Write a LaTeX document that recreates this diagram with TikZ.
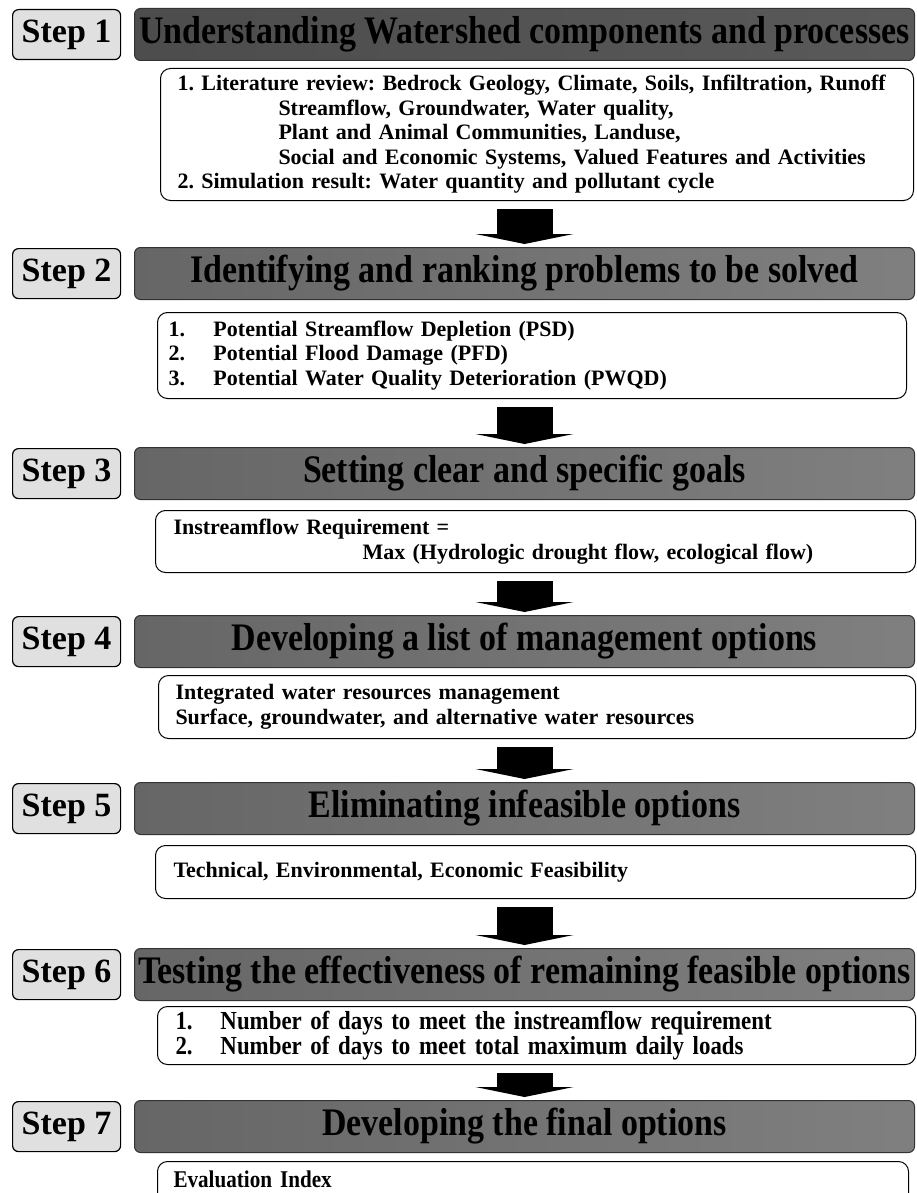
\documentclass[tikz,border=0pt]{standalone}
\usepackage{fontspec}
\setmainfont{Liberation Serif}
\newfontfamily\narrowserif{Liberation Serif}[FakeStretch=0.87]
\newfontfamily\slimserif{Liberation Serif}[FakeStretch=0.88]
\usetikzlibrary{arrows.meta,positioning}
\frenchspacing
\newcommand{\stepfont}{\fontsize{34}{36}\selectfont\bfseries}
\newcommand{\headfont}{\narrowserif\fontsize{39}{40}\selectfont\bfseries}
\newcommand{\bodyfont}{\fontsize{22}{24.5}\selectfont\bfseries}
\newcommand{\slimfont}{\slimserif\fontsize{26}{23}\selectfont\bfseries}
\newcommand{\lno}[1]{\makebox[45pt][l]{#1}}

\begin{document}
\begin{tikzpicture}[x=1pt,y=-1pt,
  stepbox/.style={draw,line width=1.2pt,rounded corners=6pt,fill=black!12,
    minimum width=108pt,minimum height=50pt,inner sep=0pt,font=\stepfont,anchor=north west},
  headbox/.style={draw=black!80,line width=1pt,rounded corners=6pt,
    left color=black!60,middle color=black!35,right color=black!50,
    minimum width=780pt,minimum height=52pt,inner sep=0pt,font=\headfont,anchor=north west},
  bodybox/.style={draw,line width=1pt,rounded corners=10pt,fill=white,
    align=left,inner ysep=0pt,font=\bodyfont,anchor=north west},
  flow/.style={line width=56pt,-{Triangle[width=98pt,length=10pt,line width=0pt]},
    shorten <=8pt,shorten >=3pt}]
  \useasboundingbox (0,0) rectangle (916,1193);

  % step 1
  \node[stepbox] (step1) at (12,9) {Step 1};
  \node[headbox,left color=black!70,middle color=black!55,right color=black!65]
    (head1) at (134,8) {Understanding Watershed components and processes};
  \node[bodybox,inner xsep=17pt,text width=719pt,minimum height=132pt] (body1) at (160,68)
    {1. Literature review: Bedrock Geology, Climate, Soils, Infiltration, Runoff\\
     \hspace*{101pt}Streamflow, Groundwater, Water quality,\\
     \hspace*{101pt}Plant and Animal Communities, Landuse,\\
     \hspace*{101pt}Social and Economic Systems, Valued Features and Activities\\
     2. Simulation result: Water quantity and pollutant cycle};

  % step 2
  \node[stepbox] (step2) at (12,248) {Step 2};
  \node[headbox] (head2) at (134,247) {Identifying and ranking problems to be solved};
  \node[bodybox,inner xsep=11pt,text width=727pt,minimum height=86pt] (body2) at (157,312)
    {\lno{1.}Potential Streamflow Depletion (PSD)\\
     \lno{2.}Potential Flood Damage (PFD)\\
     \lno{3.}Potential Water Quality Deterioration (PWQD)};

  % step 3
  \node[stepbox] (step3) at (12,448) {Step 3};
  \node[headbox] (head3) at (134,447) {Setting clear and specific goals};
  \node[bodybox,inner xsep=18pt,text width=724pt,minimum height=62pt] (body3) at (155,510)
    {Instreamflow Requirement =\\
     \hspace*{189pt}Max (Hydrologic drought flow, ecological flow)};

  % step 4
  \node[stepbox] (step4) at (12,616) {Step 4};
  \node[headbox] (head4) at (134,615) {Developing a list of management options};
  \node[bodybox,inner xsep=17pt,text width=723pt,minimum height=63pt] (body4) at (158,675)
    {Integrated water resources management\\
     Surface, groundwater, and alternative water resources};

  % step 5
  \node[stepbox] (step5) at (12,783) {Step 5};
  \node[headbox] (head5) at (134,782) {Eliminating infeasible options};
  \node[bodybox,inner xsep=18pt,text width=724pt,minimum height=53pt] (body5) at (155,845)
    {Technical, Environmental, Economic Feasibility};

  % step 6
  \node[stepbox] (step6) at (12,949) {Step 6};
  \node[headbox] (head6) at (134,948) {Testing the effectiveness of remaining feasible options};
  \node[bodybox,inner xsep=18pt,text width=722pt,minimum height=58pt,font=\slimfont] (body6) at (157,1006)
    {\lno{1.}Number of days to meet the instreamflow requirement\\
     \lno{2.}Number of days to meet total maximum daily loads};

  % step 7
  \node[stepbox] (step7) at (12,1101) {Step 7};
  \node[headbox] (head7) at (134,1100) {Developing the final options};
  \node[bodybox,inner xsep=16pt,inner ysep=9pt,text width=719pt,text height=17pt,text depth=60pt,
    font=\slimserif\fontsize{24}{26}\selectfont\bfseries] (body7) at (157,1161) {Evaluation Index};

  % arrows between the steps
  \draw[flow] (body1.south -| head2.north) -- (head2.north);
  \draw[flow] (body2.south -| head3.north) -- (head3.north);
  \draw[flow] (body3.south -| head4.north) -- (head4.north);
  \draw[flow] (body4.south -| head5.north) -- (head5.north);
  \draw[flow] (body5.south -| head6.north) -- (head6.north);
  \draw[flow] (body6.south -| head7.north) -- (head7.north);
\end{tikzpicture}
\end{document}
